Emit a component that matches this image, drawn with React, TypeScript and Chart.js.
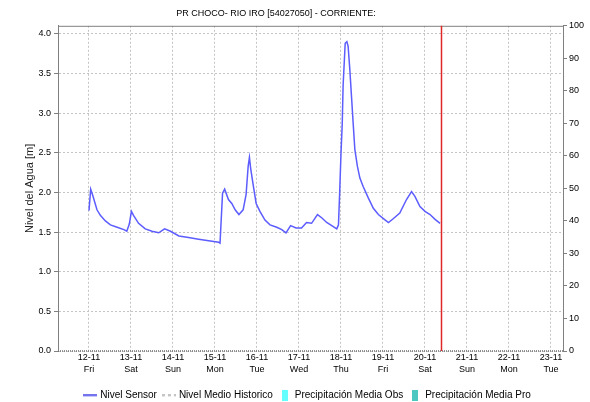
import React, { useEffect, useRef } from "react";
import { Chart, registerables } from "chart.js";

Chart.register(...registerables);

const titleText = "PR CHOCO- RIO IRO [54027050] - CORRIENTE:";
const dayNumbers = [12, 13, 14, 15, 16, 17, 18, 19, 20, 21, 22, 23];
const weekdays = ["Fri", "Sat", "Sun", "Mon", "Tue", "Wed", "Thu", "Fri", "Sat", "Sun", "Mon", "Tue"];
const leftTicks = [0, 0.5, 1, 1.5, 2, 2.5, 3, 3.5, 4];
const xMin = 11.262;
const xMax = 23.286;
const nowMark = 20.38;

// time in days (day-of-month with fraction), level in metres
const sensorTime = [
  12.0, 12.04, 12.09, 12.19, 12.27, 12.39, 12.51, 12.67, 12.83, 12.9, 12.96, 13.01, 13.06, 13.18, 13.34,
  13.5, 13.66, 13.8, 13.94, 14.14, 14.37, 14.61, 14.85, 15.09, 15.12, 15.18, 15.23, 15.32, 15.4, 15.48,
  15.57, 15.67, 15.74, 15.79, 15.82, 15.85, 15.91, 15.98, 16.07, 16.19, 16.31, 16.47, 16.59, 16.69, 16.8,
  16.93, 17.06, 17.18, 17.3, 17.44, 17.54, 17.66, 17.78, 17.9, 17.94, 17.97, 18.0, 18.03, 18.05, 18.1,
  18.14, 18.17, 18.21, 18.25, 18.29, 18.33, 18.39, 18.45, 18.53, 18.65, 18.77, 18.89, 19.01, 19.13, 19.25,
  19.4, 19.56, 19.68, 19.76, 19.88, 20.0, 20.12, 20.24, 20.36,
];
const sensorLevel = [
  1.77, 2.04, 1.96, 1.78, 1.71, 1.64, 1.59, 1.56, 1.53, 1.51, 1.6, 1.76, 1.71, 1.61, 1.54,
  1.51, 1.49, 1.54, 1.51, 1.45, 1.43, 1.41, 1.39, 1.37, 1.36, 1.99, 2.04, 1.91, 1.86, 1.78,
  1.72, 1.78, 1.97, 2.33, 2.44, 2.3, 2.09, 1.86, 1.76, 1.65, 1.59, 1.56, 1.53, 1.49, 1.58,
  1.55, 1.55, 1.62, 1.61, 1.72, 1.68, 1.62, 1.58, 1.54, 1.59, 2.02, 2.49, 2.87, 3.34, 3.88,
  3.9, 3.84, 3.55, 3.21, 2.87, 2.54, 2.33, 2.18, 2.07, 1.93, 1.8, 1.72, 1.67, 1.62, 1.67,
  1.74, 1.91, 2.01, 1.95, 1.82, 1.76, 1.72, 1.66, 1.61,
];
const historicTime = [xMin, xMax];
const historicLevel = [0, 0];

function lineIcon(color: string, dash: number[]) {
  const c = document.createElement("canvas");
  c.width = 14;
  c.height = 3;
  const g = c.getContext("2d")!;
  g.strokeStyle = color;
  g.lineWidth = 1.5;
  g.setLineDash(dash);
  g.beginPath();
  g.moveTo(0, 1.5);
  g.lineTo(14, 1.5);
  g.stroke();
  return c;
}
function boxIcon(color: string) {
  const c = document.createElement("canvas");
  c.width = 6;
  c.height = 11;
  const g = c.getContext("2d")!;
  g.fillStyle = color;
  g.fillRect(0, 0, 6, 11);
  return c;
}

export default function App() {
  const ref = useRef<HTMLCanvasElement | null>(null);
  useEffect(() => {
    if (!ref.current) return;
    Chart.defaults.font.family = "'Liberation Sans', Arial, sans-serif";
    Chart.defaults.color = "#000";
    const icons = [
      lineIcon("#2020e0", []),
      lineIcon("#a0a0a0", [3, 3]),
      boxIcon("#66ffff"),
      boxIcon("#4cc8c0"),
    ];
    const framePlugin = {
      id: "frame",
      afterLayout(chart: any) {
        const lg = chart.legend;
        if (lg) {
          lg.top += 8;
          lg.bottom += 8;
          lg.left += 13;
          lg.right += 13;
        }
        const tb = chart.titleBlock;
        if (tb) {
          tb.left -= 19;
          tb.right -= 19;
        }
      },
      afterDatasetsDraw(chart: any) {
        const { ctx, chartArea } = chart;
        const xs = chart.scales.x;
        const px = Math.round(xs.getPixelForValue(nowMark)) + 0.5;
        ctx.save();
        ctx.strokeStyle = "#808080";
        ctx.lineWidth = 1;
        ctx.beginPath();
        ctx.moveTo(chartArea.left + 0.5, chartArea.bottom);
        ctx.lineTo(chartArea.left + 0.5, chartArea.top + 0.5);
        ctx.lineTo(chartArea.right + 0.5, chartArea.top + 0.5);
        ctx.lineTo(chartArea.right + 0.5, chartArea.bottom);
        ctx.stroke();
        ctx.strokeStyle = "#e02828";
        ctx.lineWidth = 1.5;
        ctx.beginPath();
        ctx.moveTo(px, chartArea.top);
        ctx.lineTo(px, chartArea.bottom);
        ctx.stroke();
        ctx.restore();
      },
    };
    const chart = new Chart(ref.current, {
      type: "line",
      data: {
        datasets: [
          {
            label: "Nivel Sensor",
            data: sensorTime.map((t, i) => ({ x: t, y: sensorLevel[i] })),
            borderColor: "#5c5cff",
            borderWidth: 1.5,
            pointRadius: 0,
            tension: 0,
            yAxisID: "y",
          },
          {
            label: "Nivel Medio Historico",
            data: historicTime.map((t, i) => ({ x: t, y: historicLevel[i] })),
            borderColor: "#707070",
            borderWidth: 1.5,
            borderDash: [1, 1],
            pointRadius: 0,
            clip: false,
            yAxisID: "y",
          },
          {
            type: "bar",
            label: "Precipitación Media Obs",
            data: [],
            backgroundColor: "#66ffff",
            yAxisID: "y1",
          } as any,
          {
            type: "bar",
            label: "Precipitación Media Pro",
            data: [],
            backgroundColor: "#4cc8c0",
            yAxisID: "y1",
          } as any,
        ],
      },
      options: {
        animation: false,
        responsive: true,
        maintainAspectRatio: false,
        layout: { padding: 0 },
        plugins: {
          title: {
            display: true,
            text: titleText,
            font: { size: 9, weight: "normal", lineHeight: 1.2 },
            color: "#000",
            padding: { top: 8, bottom: 7 },
          },
          legend: {
            position: "bottom",
            labels: {
              usePointStyle: true,
              pointStyleWidth: 10,
              boxHeight: 10,
              padding: 7,
              font: { size: 10 },
              color: "#000",
              generateLabels: (ch: any) =>
                ch.data.datasets.map((d: any, i: number) => ({
                  text: d.label,
                  pointStyle: icons[i],
                  datasetIndex: i,
                  fontColor: "#000",
                  lineWidth: 0,
                  hidden: false,
                })),
            },
          },
          tooltip: { enabled: false },
        },
        scales: {
          x: {
            type: "linear",
            min: xMin,
            max: xMax,
            offset: false,
            afterBuildTicks: (s: any) => {
              s.ticks = dayNumbers.map((v) => ({ value: v }));
            },
            afterFit: (s: any) => {
              const lg = s.chart.legend;
              s.height = 402 - 351 - (lg ? lg.height : 0);
            },
            ticks: {
              autoSkip: false,
              maxRotation: 0,
              padding: 0,
              font: { size: 9, lineHeight: 1.35 },
              color: "#000",
              callback: (v: any) => {
                const i = dayNumbers.indexOf(Number(v));
                return i < 0 ? "" : [`${dayNumbers[i]}-11`, weekdays[i]];
              },
            },
            grid: {
              color: "#c4c4c4",
              offset: false,
              tickLength: 0,
              drawTicks: false,
            },
            border: { display: false, dash: [2, 2] },
          },
          y: {
            position: "left",
            min: 0,
            max: 4.1,
            afterBuildTicks: (s: any) => {
              s.ticks = leftTicks.map((v) => ({ value: v }));
            },
            afterFit: (s: any) => {
              s.width = 58;
            },
            ticks: {
              padding: 3,
              font: { size: 9 },
              color: "#000",
              callback: (v: any) => Number(v).toFixed(1),
            },
            grid: {
              color: "#c4c4c4",
              tickLength: 4,
              tickColor: "#808080",
            },
            border: { display: true, color: "#808080", dash: [2, 2] },
            title: {
              display: true,
              text: "Nivel del Agua [m]",
              font: { size: 11 },
              color: "#222",
              padding: { top: 23, bottom: 0 },
            },
          },
          y1: {
            position: "right",
            min: 0,
            max: 100,
            afterFit: (s: any) => {
              s.width = 27;
            },
            ticks: {
              stepSize: 10,
              padding: 2,
              font: { size: 9 },
              color: "#000",
            },
            grid: {
              drawOnChartArea: false,
              tickLength: 4,
              color: "#808080",
            },
            border: { display: true, color: "#808080" },
          },
        },
      } as any,
      plugins: [framePlugin],
    });
    return () => chart.destroy();
  }, []);
  return (
    <div style={{ position: "absolute", left: 0, top: 0, width: 590, height: 402, background: "#fff" }}>
      <canvas ref={ref} />
    </div>
  );
}
